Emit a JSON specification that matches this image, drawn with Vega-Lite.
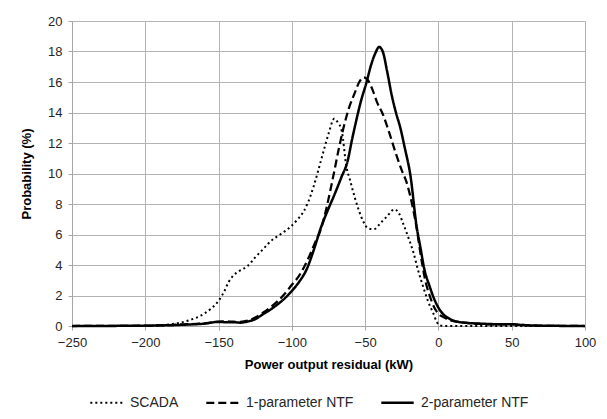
{
  "$schema": "https://vega.github.io/schema/vega-lite/v6.json",
  "width": 513,
  "height": 305,
  "autosize": "none",
  "padding": {"left": 72, "top": 21, "right": 22, "bottom": 93},
  "background": "white",
  "config": {
    "font": "Liberation Sans",
    "view": {"stroke": null},
    "axis": {
      "gridColor": "#b3b3b3",
      "gridWidth": 1,
      "domainColor": "#a6a6a6",
      "tickColor": "#a6a6a6",
      "tickSize": 4,
      "labelFont": "Liberation Sans",
      "labelFontSize": 13,
      "labelColor": "#262626",
      "labelFlush": false,
      "titleFont": "Liberation Sans",
      "titleFontSize": 13,
      "titleFontWeight": "bold",
      "titleColor": "#000000"
    }
  },
  "data": {
    "values": [
      {"x": -250, "p": 0, "s": "SCADA"},
      {"x": -225, "p": 0, "s": "SCADA"},
      {"x": -200, "p": 0, "s": "SCADA"},
      {"x": -190, "p": 0.05, "s": "SCADA"},
      {"x": -180, "p": 0.15, "s": "SCADA"},
      {"x": -175, "p": 0.24, "s": "SCADA"},
      {"x": -170, "p": 0.38, "s": "SCADA"},
      {"x": -165, "p": 0.55, "s": "SCADA"},
      {"x": -160, "p": 0.8, "s": "SCADA"},
      {"x": -155, "p": 1.15, "s": "SCADA"},
      {"x": -150, "p": 1.65, "s": "SCADA"},
      {"x": -146, "p": 2.3, "s": "SCADA"},
      {"x": -143, "p": 2.9, "s": "SCADA"},
      {"x": -140, "p": 3.3, "s": "SCADA"},
      {"x": -136, "p": 3.6, "s": "SCADA"},
      {"x": -130, "p": 3.95, "s": "SCADA"},
      {"x": -125, "p": 4.5, "s": "SCADA"},
      {"x": -120, "p": 5.0, "s": "SCADA"},
      {"x": -114, "p": 5.6, "s": "SCADA"},
      {"x": -108, "p": 6.0, "s": "SCADA"},
      {"x": -101, "p": 6.5, "s": "SCADA"},
      {"x": -96, "p": 7.0, "s": "SCADA"},
      {"x": -92, "p": 7.5, "s": "SCADA"},
      {"x": -89, "p": 8.1, "s": "SCADA"},
      {"x": -85, "p": 9.2, "s": "SCADA"},
      {"x": -82, "p": 10.2, "s": "SCADA"},
      {"x": -78, "p": 11.6, "s": "SCADA"},
      {"x": -75, "p": 12.6, "s": "SCADA"},
      {"x": -71, "p": 13.6, "s": "SCADA"},
      {"x": -69, "p": 13.4, "s": "SCADA"},
      {"x": -66, "p": 12.8, "s": "SCADA"},
      {"x": -62.7, "p": 10.4, "s": "SCADA"},
      {"x": -60.4, "p": 9.6, "s": "SCADA"},
      {"x": -57, "p": 8.4, "s": "SCADA"},
      {"x": -54.7, "p": 7.7, "s": "SCADA"},
      {"x": -51, "p": 6.8, "s": "SCADA"},
      {"x": -48, "p": 6.4, "s": "SCADA"},
      {"x": -44, "p": 6.35, "s": "SCADA"},
      {"x": -39, "p": 6.8, "s": "SCADA"},
      {"x": -35, "p": 7.2, "s": "SCADA"},
      {"x": -30, "p": 7.65, "s": "SCADA"},
      {"x": -27, "p": 7.4, "s": "SCADA"},
      {"x": -24, "p": 6.7, "s": "SCADA"},
      {"x": -20.5, "p": 5.8, "s": "SCADA"},
      {"x": -17, "p": 4.8, "s": "SCADA"},
      {"x": -14, "p": 3.7, "s": "SCADA"},
      {"x": -10.5, "p": 2.6, "s": "SCADA"},
      {"x": -7, "p": 1.6, "s": "SCADA"},
      {"x": -3.5, "p": 0.83, "s": "SCADA"},
      {"x": -1, "p": 0.25, "s": "SCADA"},
      {"x": 1, "p": 0.03, "s": "SCADA"},
      {"x": 5, "p": 0, "s": "SCADA"},
      {"x": 50, "p": 0, "s": "SCADA"},
      {"x": 100, "p": 0, "s": "SCADA"},

      {"x": -250, "p": 0, "s": "1-parameter NTF"},
      {"x": -200, "p": 0.02, "s": "1-parameter NTF"},
      {"x": -180, "p": 0.08, "s": "1-parameter NTF"},
      {"x": -170, "p": 0.12, "s": "1-parameter NTF"},
      {"x": -160, "p": 0.18, "s": "1-parameter NTF"},
      {"x": -150, "p": 0.28, "s": "1-parameter NTF"},
      {"x": -145, "p": 0.3, "s": "1-parameter NTF"},
      {"x": -140, "p": 0.28, "s": "1-parameter NTF"},
      {"x": -135, "p": 0.27, "s": "1-parameter NTF"},
      {"x": -130, "p": 0.35, "s": "1-parameter NTF"},
      {"x": -125, "p": 0.55, "s": "1-parameter NTF"},
      {"x": -120, "p": 0.85, "s": "1-parameter NTF"},
      {"x": -115, "p": 1.2, "s": "1-parameter NTF"},
      {"x": -110, "p": 1.6, "s": "1-parameter NTF"},
      {"x": -105, "p": 2.1, "s": "1-parameter NTF"},
      {"x": -100, "p": 2.7, "s": "1-parameter NTF"},
      {"x": -95, "p": 3.3, "s": "1-parameter NTF"},
      {"x": -92, "p": 3.8, "s": "1-parameter NTF"},
      {"x": -88, "p": 4.6, "s": "1-parameter NTF"},
      {"x": -84, "p": 5.5, "s": "1-parameter NTF"},
      {"x": -80, "p": 6.4, "s": "1-parameter NTF"},
      {"x": -76, "p": 7.9, "s": "1-parameter NTF"},
      {"x": -72, "p": 9.7, "s": "1-parameter NTF"},
      {"x": -68, "p": 11.6, "s": "1-parameter NTF"},
      {"x": -65, "p": 12.9, "s": "1-parameter NTF"},
      {"x": -61, "p": 14.3, "s": "1-parameter NTF"},
      {"x": -57, "p": 15.3, "s": "1-parameter NTF"},
      {"x": -54, "p": 16.0, "s": "1-parameter NTF"},
      {"x": -51, "p": 16.3, "s": "1-parameter NTF"},
      {"x": -48, "p": 16.1, "s": "1-parameter NTF"},
      {"x": -45, "p": 15.5, "s": "1-parameter NTF"},
      {"x": -42, "p": 14.7, "s": "1-parameter NTF"},
      {"x": -38, "p": 13.9, "s": "1-parameter NTF"},
      {"x": -34, "p": 12.8, "s": "1-parameter NTF"},
      {"x": -29, "p": 11.3, "s": "1-parameter NTF"},
      {"x": -25, "p": 10.2, "s": "1-parameter NTF"},
      {"x": -22, "p": 9.5, "s": "1-parameter NTF"},
      {"x": -18, "p": 8.0, "s": "1-parameter NTF"},
      {"x": -15, "p": 6.5, "s": "1-parameter NTF"},
      {"x": -12, "p": 4.6, "s": "1-parameter NTF"},
      {"x": -9, "p": 3.0, "s": "1-parameter NTF"},
      {"x": -6, "p": 2.0, "s": "1-parameter NTF"},
      {"x": -3, "p": 1.25, "s": "1-parameter NTF"},
      {"x": 0, "p": 0.8, "s": "1-parameter NTF"},
      {"x": 3, "p": 0.6, "s": "1-parameter NTF"},
      {"x": 8, "p": 0.38, "s": "1-parameter NTF"},
      {"x": 15, "p": 0.25, "s": "1-parameter NTF"},
      {"x": 25, "p": 0.15, "s": "1-parameter NTF"},
      {"x": 35, "p": 0.1, "s": "1-parameter NTF"},
      {"x": 45, "p": 0.1, "s": "1-parameter NTF"},
      {"x": 50, "p": 0.12, "s": "1-parameter NTF"},
      {"x": 55, "p": 0.08, "s": "1-parameter NTF"},
      {"x": 65, "p": 0.03, "s": "1-parameter NTF"},
      {"x": 80, "p": 0.01, "s": "1-parameter NTF"},
      {"x": 100, "p": 0, "s": "1-parameter NTF"},

      {"x": -250, "p": 0, "s": "2-parameter NTF"},
      {"x": -200, "p": 0.02, "s": "2-parameter NTF"},
      {"x": -180, "p": 0.06, "s": "2-parameter NTF"},
      {"x": -170, "p": 0.1, "s": "2-parameter NTF"},
      {"x": -160, "p": 0.15, "s": "2-parameter NTF"},
      {"x": -150, "p": 0.27, "s": "2-parameter NTF"},
      {"x": -145, "p": 0.25, "s": "2-parameter NTF"},
      {"x": -140, "p": 0.25, "s": "2-parameter NTF"},
      {"x": -135, "p": 0.22, "s": "2-parameter NTF"},
      {"x": -130, "p": 0.3, "s": "2-parameter NTF"},
      {"x": -125, "p": 0.45, "s": "2-parameter NTF"},
      {"x": -120, "p": 0.75, "s": "2-parameter NTF"},
      {"x": -115, "p": 1.05, "s": "2-parameter NTF"},
      {"x": -110, "p": 1.4, "s": "2-parameter NTF"},
      {"x": -105, "p": 1.8, "s": "2-parameter NTF"},
      {"x": -100, "p": 2.3, "s": "2-parameter NTF"},
      {"x": -95, "p": 2.9, "s": "2-parameter NTF"},
      {"x": -90, "p": 3.7, "s": "2-parameter NTF"},
      {"x": -85, "p": 5.0, "s": "2-parameter NTF"},
      {"x": -80, "p": 6.5, "s": "2-parameter NTF"},
      {"x": -75, "p": 7.7, "s": "2-parameter NTF"},
      {"x": -71, "p": 8.6, "s": "2-parameter NTF"},
      {"x": -66, "p": 9.8, "s": "2-parameter NTF"},
      {"x": -62, "p": 10.8, "s": "2-parameter NTF"},
      {"x": -59, "p": 12.2, "s": "2-parameter NTF"},
      {"x": -56, "p": 13.5, "s": "2-parameter NTF"},
      {"x": -53, "p": 14.7, "s": "2-parameter NTF"},
      {"x": -49, "p": 16.0, "s": "2-parameter NTF"},
      {"x": -46, "p": 17.1, "s": "2-parameter NTF"},
      {"x": -43, "p": 17.9, "s": "2-parameter NTF"},
      {"x": -40.5, "p": 18.3, "s": "2-parameter NTF"},
      {"x": -38, "p": 18.0, "s": "2-parameter NTF"},
      {"x": -35, "p": 16.7, "s": "2-parameter NTF"},
      {"x": -32, "p": 15.2, "s": "2-parameter NTF"},
      {"x": -29, "p": 14.0, "s": "2-parameter NTF"},
      {"x": -26, "p": 13.0, "s": "2-parameter NTF"},
      {"x": -23, "p": 11.7, "s": "2-parameter NTF"},
      {"x": -19, "p": 9.8, "s": "2-parameter NTF"},
      {"x": -15, "p": 6.6, "s": "2-parameter NTF"},
      {"x": -12, "p": 5.0, "s": "2-parameter NTF"},
      {"x": -10, "p": 3.9, "s": "2-parameter NTF"},
      {"x": -6, "p": 2.6, "s": "2-parameter NTF"},
      {"x": -3, "p": 1.8, "s": "2-parameter NTF"},
      {"x": 0, "p": 1.2, "s": "2-parameter NTF"},
      {"x": 3, "p": 0.8, "s": "2-parameter NTF"},
      {"x": 8, "p": 0.45, "s": "2-parameter NTF"},
      {"x": 12, "p": 0.3, "s": "2-parameter NTF"},
      {"x": 20, "p": 0.2, "s": "2-parameter NTF"},
      {"x": 30, "p": 0.15, "s": "2-parameter NTF"},
      {"x": 40, "p": 0.12, "s": "2-parameter NTF"},
      {"x": 50, "p": 0.12, "s": "2-parameter NTF"},
      {"x": 55, "p": 0.08, "s": "2-parameter NTF"},
      {"x": 65, "p": 0.03, "s": "2-parameter NTF"},
      {"x": 80, "p": 0.01, "s": "2-parameter NTF"},
      {"x": 100, "p": 0, "s": "2-parameter NTF"}
    ]
  },
  "mark": {"type": "line", "color": "black", "interpolate": "monotone", "strokeCap": "butt"},
  "encoding": {
    "x": {
      "field": "x", "type": "quantitative",
      "scale": {"domain": [-250, 100], "nice": false},
      "axis": {"values": [-250, -200, -150, -100, -50, 0, 50, 100], "title": "Power output residual (kW)", "labelPadding": 6, "titlePadding": 9}
    },
    "y": {
      "field": "p", "type": "quantitative",
      "scale": {"domain": [0, 20], "nice": false},
      "axis": {"values": [0, 2, 4, 6, 8, 10, 12, 14, 16, 18, 20], "title": "Probability (%)", "labelPadding": 6, "titlePadding": 14}
    },
    "strokeDash": {
      "field": "s", "type": "nominal",
      "scale": {"domain": ["SCADA", "1-parameter NTF", "2-parameter NTF"], "range": [[2, 3], [8, 4], [1, 0]]},
      "legend": {
        "title": null,
        "orient": "none",
        "direction": "horizontal",
        "legendX": 17,
        "legendY": 364,
        "symbolSize": 1050,
        "symbolStrokeWidth": 2.5,
        "symbolStrokeColor": "black",
        "labelFont": "Liberation Sans",
        "labelFontSize": 14,
        "labelColor": "#262626",
        "labelOffset": 6,
        "columnPadding": 22
      }
    },
    "strokeWidth": {
      "field": "s", "type": "nominal",
      "scale": {"domain": ["SCADA", "1-parameter NTF", "2-parameter NTF"], "range": [2, 2.5, 2.5]},
      "legend": null
    }
  }
}
